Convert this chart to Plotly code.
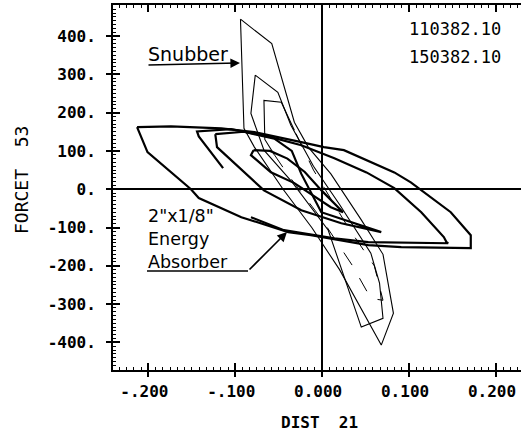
import plotly.graph_objects as go

# ---------------- data ----------------
x_tick_vals = [-0.2, -0.1, 0.0, 0.1, 0.2]
x_tick_text = ["-.200", "-.100", "0.000", "0.100", "0.200"]
y_tick_vals = [400, 300, 200, 100, 0, -100, -200, -300, -400]
y_tick_text = ["400.", "300.", "200.", "100.", "0.", "-100.", "-200.", "-300.", "-400."]

# Energy absorber loops (DIST 21 vs FORCET 53)
absorber_outer_x = [-0.213, -0.174, -0.116, -0.078, -0.024, 0.002, 0.025, 0.083, 0.102, 0.114, 0.148, 0.171, 0.171,
                    0.171, 0.091, 0.053, -0.013, -0.039, -0.093, -0.142, -0.151, -0.201, -0.213]
absorber_outer_y = [162, 164, 159, 149, 123, 110, 102, 44, 18, -3, -60, -120, -146,
                    -154, -151, -146, -120, -112, -73, -23, 0, 97, 162]

absorber_mid_x = [-0.114, -0.142, -0.144, -0.105, -0.059, -0.024, 0.014, 0.051, 0.083, 0.114, 0.140, 0.143,
                  0.145, 0.053, 0.014, -0.024, -0.044, -0.082]
absorber_mid_y = [55, 138, 151, 157, 136, 115, 81, 44, 3, -60, -125, -138,
                  -141, -138, -128, -115, -107, -73]

absorber_small_x = [-0.123, -0.090, -0.055, -0.035, -0.024, -0.001, 0.068, 0.022, -0.024, -0.067, -0.121, -0.123]
absorber_small_y = [144, 150, 132, 100, 40, -60, -112, -89, -55, -3, 110, 144]

absorber_inner_x = [-0.079, -0.060, -0.040, -0.020, 0.000, 0.024, 0.010, -0.032, -0.059, -0.082, -0.079]
absorber_inner_y = [102, 100, 80, 45, -5, -60, -47, 16, 44, 89, 102]

# Snubber loops
snubber_outer_x = [-0.094, -0.090, -0.078, -0.045, -0.012, 0.020, 0.068, 0.082, 0.070, 0.045, 0.010, -0.016, -0.032, -0.058, -0.094]
snubber_outer_y = [444, 159, 110, 0, -100, -210, -407, -324, -170, -80, 40, 110, 175, 380, 444]

snubber_mid_x = [-0.077, -0.082, -0.067, -0.035, 0.007, 0.045, 0.070, 0.066, 0.056, 0.020, -0.010, -0.036, -0.051, -0.077]
snubber_mid_y = [298, 198, 102, 20, -107, -360, -337, -245, -167, -40, 60, 167, 253, 298]

snubber_small_top_x = [-0.032, -0.047, -0.067, -0.066, -0.055]
snubber_small_top_y = [154, 227, 232, 130, 90]
snubber_small_low_x = [-0.055, -0.040, 0.000, 0.035, 0.056, 0.070, 0.060, 0.030, -0.010, -0.032]
snubber_small_low_y = [90, 40, -80, -200, -285, -290, -200, -100, 50, 154]

# ---------------- geometry helpers (annotation placement) ----------------
X0, X1 = -0.2407, 0.2288
Y0, Y1 = -472.0, 481.0
PL, PR, PT, PB = 113, 521, 5, 370


def px_x(px):
    return X0 + (px - PL) / (PR - PL) * (X1 - X0)


def px_y(py):
    return Y1 - (py - PT) / (PB - PT) * (Y1 - Y0)


def paper_x(px):
    return (px - PL) / (PR - PL)


def paper_y(py):
    return 1 - (py - PT) / (PB - PT)


fig = go.Figure()

thick = dict(color="black", width=2.2)
thin = dict(color="black", width=1.1)

for xs, ys in [(absorber_outer_x, absorber_outer_y), (absorber_mid_x, absorber_mid_y),
               (absorber_small_x, absorber_small_y), (absorber_inner_x, absorber_inner_y)]:
    fig.add_trace(go.Scatter(x=xs, y=ys, mode="lines", line=thick, showlegend=False, hoverinfo="skip"))

fig.add_trace(go.Scatter(x=snubber_outer_x, y=snubber_outer_y, mode="lines", line=thin, showlegend=False, hoverinfo="skip"))
fig.add_trace(go.Scatter(x=snubber_mid_x, y=snubber_mid_y, mode="lines", line=thin, showlegend=False, hoverinfo="skip"))
fig.add_trace(go.Scatter(x=snubber_small_top_x, y=snubber_small_top_y, mode="lines", line=thin,
                         showlegend=False, hoverinfo="skip"))
fig.add_trace(go.Scatter(x=snubber_small_low_x, y=snubber_small_low_y, mode="lines",
                         line=dict(color="black", width=1.0, dash="longdash"), showlegend=False, hoverinfo="skip"))

# invisible trace for overlay axes (outer half of major ticks)
fig.add_trace(go.Scatter(x=[0], y=[0], xaxis="x2", yaxis="y2", mode="markers",
                         marker=dict(opacity=0), showlegend=False, hoverinfo="skip"))

tick_font = dict(family="DejaVu Sans Mono", size=16, color="black", weight="bold")

fig.update_layout(
    width=521, height=442,
    margin=dict(l=PL, r=0, t=PT, b=442 - PB, autoexpand=False),
    paper_bgcolor="white", plot_bgcolor="white",
    xaxis=dict(range=[X0, X1], tickvals=x_tick_vals, ticktext=x_tick_text,
               ticks="inside", ticklen=7, tickwidth=1.5, tickcolor="black",
               showline=True, linewidth=2, linecolor="black", mirror="allticks",
               showgrid=False, zeroline=True, zerolinecolor="black", zerolinewidth=2,
               tickfont=tick_font, ticklabelshift=-4, ticklabelstandoff=6, automargin=False,
               minor=dict(ticks="inside", ticklen=3, tickwidth=1, tickcolor="black",
                          tick0=0, dtick=0.1 / 12, showgrid=False)),
    yaxis=dict(range=[Y0, Y1], tickvals=y_tick_vals, ticktext=y_tick_text,
               ticks="inside", ticklen=7, tickwidth=1.5, tickcolor="black",
               showline=True, linewidth=2, linecolor="black", mirror=False,
               showgrid=False, zeroline=True, zerolinecolor="black", zerolinewidth=2,
               tickfont=tick_font, ticklabelstandoff=12, automargin=False,
               minor=dict(ticks="inside", ticklen=3, tickwidth=1, tickcolor="black",
                          tick0=0, dtick=10, showgrid=False)),
    xaxis2=dict(range=[X0, X1], overlaying="x", anchor="y2", tickvals=x_tick_vals,
                ticks="outside", ticklen=6, tickwidth=1.5, tickcolor="black",
                showticklabels=False, showline=False, showgrid=False, zeroline=False),
    yaxis2=dict(range=[Y0, Y1], overlaying="y", anchor="x2", tickvals=y_tick_vals,
                ticks="outside", ticklen=6, tickwidth=1.5, tickcolor="black",
                showticklabels=False, showline=False, showgrid=False, zeroline=False),
)

ann_font_mono = dict(family="DejaVu Sans Mono", size=17, color="black")
label_font = dict(family="DejaVu Sans", size=19, color="black")

annotations = [
    dict(text="110382.10", x=paper_x(455), y=paper_y(29), xref="paper", yref="paper",
         showarrow=False, font=ann_font_mono, xanchor="center", yanchor="middle"),
    dict(text="150382.10", x=paper_x(455), y=paper_y(57), xref="paper", yref="paper",
         showarrow=False, font=ann_font_mono, xanchor="center", yanchor="middle"),
    dict(text="Snubber", x=paper_x(146), y=paper_y(54), xref="paper", yref="paper",
         showarrow=False, font=label_font, xanchor="left", yanchor="middle"),
    dict(text='2"x1/8"<br>Energy<br>Absorber', x=paper_x(146), y=paper_y(239), xref="paper", yref="paper",
         showarrow=False, font=dict(family="DejaVu Sans", size=17.5, color="black"),
         xanchor="left", yanchor="middle", align="left"),
    dict(text="DIST  21", x=paper_x(319), y=paper_y(422), xref="paper", yref="paper",
         showarrow=False, font=dict(family="DejaVu Sans Mono", size=16, color="black", weight="bold"),
         xanchor="center", yanchor="middle"),
    dict(text="FORCET  53", x=paper_x(22), y=paper_y(180), xref="paper", yref="paper",
         showarrow=False, textangle=-90, font=dict(family="DejaVu Sans Mono", size=18, color="black"),
         xanchor="center", yanchor="middle"),
    # snubber pointer (underline with arrowhead)
    dict(text="", x=px_x(240), y=px_y(63), ax=px_x(147), ay=px_y(65), xref="x", yref="y",
         axref="x", ayref="y", showarrow=True, arrowhead=2, arrowsize=1.2, arrowwidth=1.6,
         arrowcolor="black", standoff=0, startstandoff=0),
    # absorber pointer
    dict(text="", x=px_x(287), y=px_y(232), ax=px_x(248), ay=px_y(271), xref="x", yref="y",
         axref="x", ayref="y", showarrow=True, arrowhead=2, arrowsize=1.2, arrowwidth=1.6,
         arrowcolor="black", standoff=0, startstandoff=0),
]
fig.update_layout(annotations=annotations)

fig.add_shape(type="line", x0=px_x(147), x1=px_x(248), y0=px_y(271), y1=px_y(271),
              xref="x", yref="y", line=dict(color="black", width=1.6))

fig.write_html("out.html", config={"displayModeBar": False},
               post_script="document.body.style.margin='0';document.body.style.overflow='hidden';")
